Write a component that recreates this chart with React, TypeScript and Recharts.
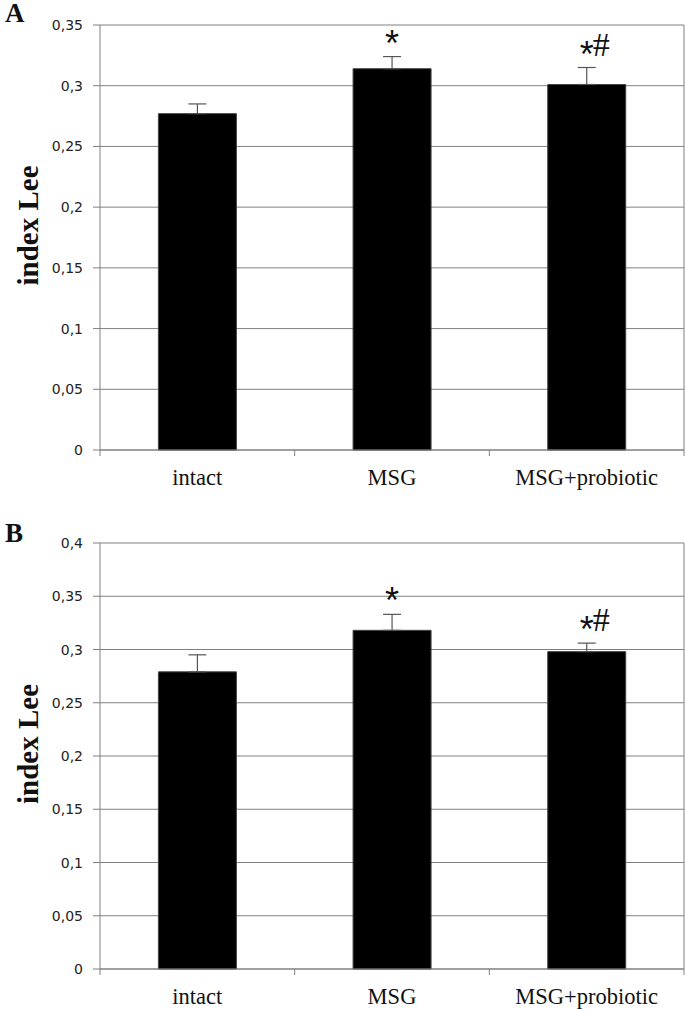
import React from "react";
import {
  BarChart,
  Bar,
  XAxis,
  YAxis,
  CartesianGrid,
  ErrorBar,
  LabelList,
} from "recharts";

// values (index Lee per group)
const categories = ["intact", "MSG", "MSG+probiotic"];

const valuesA = [0.277, 0.314, 0.301];
const errorsA = [0.008, 0.01, 0.014];
const marksA = ["", "*", "*#"];
const ticksA = [0, 0.05, 0.1, 0.15, 0.2, 0.25, 0.3, 0.35];

const valuesB = [0.279, 0.318, 0.298];
const errorsB = [0.016, 0.015, 0.008];
const marksB = ["", "*", "*#"];
const ticksB = [0, 0.05, 0.1, 0.15, 0.2, 0.25, 0.3, 0.35, 0.4];

const W = 685;
const AXIS_W = 100;
const RIGHT = 1;
const PLOT_W = W - AXIS_W - RIGHT;
const GREY = "#808080";
const SERIF = "'Liberation Serif', 'Times New Roman', serif";

const fmt = (v: number) => String(v).replace(".", ",");

const build = (vals: number[], errs: number[], marks: string[]) =>
  categories.map((name, i) => ({
    name,
    value: vals[i],
    err: [0, errs[i]],
    mark: marks[i],
  }));

const CatTick = (props: any) => {
  const { x, y, payload, index } = props;
  const step = PLOT_W / categories.length;
  return (
    <g>
      <line x1={x - step / 2} x2={x - step / 2} y1={y} y2={y + 6} stroke={GREY} />
      {index === categories.length - 1 && (
        <line x1={x + step / 2} x2={x + step / 2} y1={y} y2={y + 6} stroke={GREY} />
      )}
      <text x={x} y={y + 35} textAnchor="middle" fontFamily={SERIF} fontSize={22.5} fill="#111">
        {payload.value}
      </text>
    </g>
  );
};

const ValTick = (props: any) => {
  const { x, y, payload } = props;
  return (
    <text
      x={x}
      y={y}
      dy={5}
      textAnchor="end"
      fontFamily="'DejaVu Sans', Verdana, sans-serif"
      fontSize={14}
      fill="#222"
    >
      {fmt(payload.value)}
    </text>
  );
};

type PanelProps = {
  vals: number[];
  errs: number[];
  marks: string[];
  ticks: number[];
  top: number;
  height: number;
  mTop: number;
  mBottom: number;
  letter: string;
  letterTop: number;
};

const Panel = ({ vals, errs, marks, ticks, top, height, mTop, mBottom, letter, letterTop }: PanelProps) => {
  const data = build(vals, errs, marks);
  const max = ticks[ticks.length - 1];

  // significance marks sit a little above the error bar top
  const markContent = (p: any) => {
    const { x, y, width, height: h, value, index } = p;
    if (!value) return null;
    const pxPerUnit = Number(h) / vals[index];
    const cx = Number(x) + Number(width) / 2;
    const errTop = Number(y) - errs[index] * pxPerUnit;
    const center = errTop - 22;
    const fs = 36;
    return (
      <g>
        <text
          x={cx}
          y={center + 0.585 * fs}
          textAnchor="middle"
          fontFamily="'Liberation Sans', Arial, sans-serif"
          fontSize={fs}
          fill="#111"
        >
          *
        </text>
        {String(value).includes("#") && (
          <text x={cx + 6} y={center + 10} textAnchor="start" fontFamily={SERIF} fontSize={34} fill="#111">
            #
          </text>
        )}
      </g>
    );
  };

  return (
    <div style={{ position: "absolute", left: 0, top, width: W, height }}>
      <div
        style={{
          position: "absolute",
          left: 5,
          top: letterTop,
          fontFamily: SERIF,
          fontWeight: "bold",
          fontSize: 27,
          lineHeight: "27px",
          color: "#111",
        }}
      >
        {letter}
      </div>
      <BarChart
        width={W}
        height={height}
        data={data}
        margin={{ top: mTop, right: RIGHT, bottom: mBottom, left: 0 }}
        barCategoryGap="30%"
      >
        <CartesianGrid stroke={GREY} vertical verticalCoordinatesGenerator={() => [AXIS_W + PLOT_W]} />
        <XAxis
          dataKey="name"
          interval={0}
          height={30}
          tickSize={0}
          tickMargin={0}
          axisLine={{ stroke: GREY }}
          tickLine={false}
          tick={<CatTick />}
        />
        <YAxis
          width={AXIS_W}
          domain={[0, max]}
          ticks={ticks}
          interval={0}
          tickSize={7}
          tickMargin={10}
          axisLine={{ stroke: GREY }}
          tickLine={{ stroke: GREY }}
          tick={<ValTick />}
          label={{
            content: (p: any) => {
              const vb = p.viewBox || { y: mTop, height: height - mTop - mBottom - 30 };
              const cy = vb.y + vb.height / 2 - 12;
              return (
                <text
                  x={38}
                  y={cy}
                  transform={`rotate(-90, 38, ${cy})`}
                  textAnchor="middle"
                  fontFamily={SERIF}
                  fontWeight="bold"
                  fontSize={29}
                  fill="#111"
                >
                  index Lee
                </text>
              );
            },
          }}
        />
        <Bar dataKey="value" fill="#000" stroke="#444" strokeWidth={1} isAnimationActive={false}>
          <ErrorBar dataKey="err" width={9} stroke="#555" strokeWidth={1.2} direction="y" />
          <LabelList dataKey="mark" content={markContent} />
        </Bar>
      </BarChart>
    </div>
  );
};

export default function App() {
  return (
    <div style={{ position: "absolute", left: 0, top: 0, width: W, height: 1011, background: "#fff" }}>
      <Panel
        vals={valuesA}
        errs={errorsA}
        marks={marksA}
        ticks={ticksA}
        top={0}
        height={505}
        mTop={25}
        mBottom={25}
        letter="A"
        letterTop={0}
      />
      <Panel
        vals={valuesB}
        errs={errorsB}
        marks={marksB}
        ticks={ticksB}
        top={505}
        height={506}
        mTop={38}
        mBottom={12}
        letter="B"
        letterTop={15}
      />
    </div>
  );
}
